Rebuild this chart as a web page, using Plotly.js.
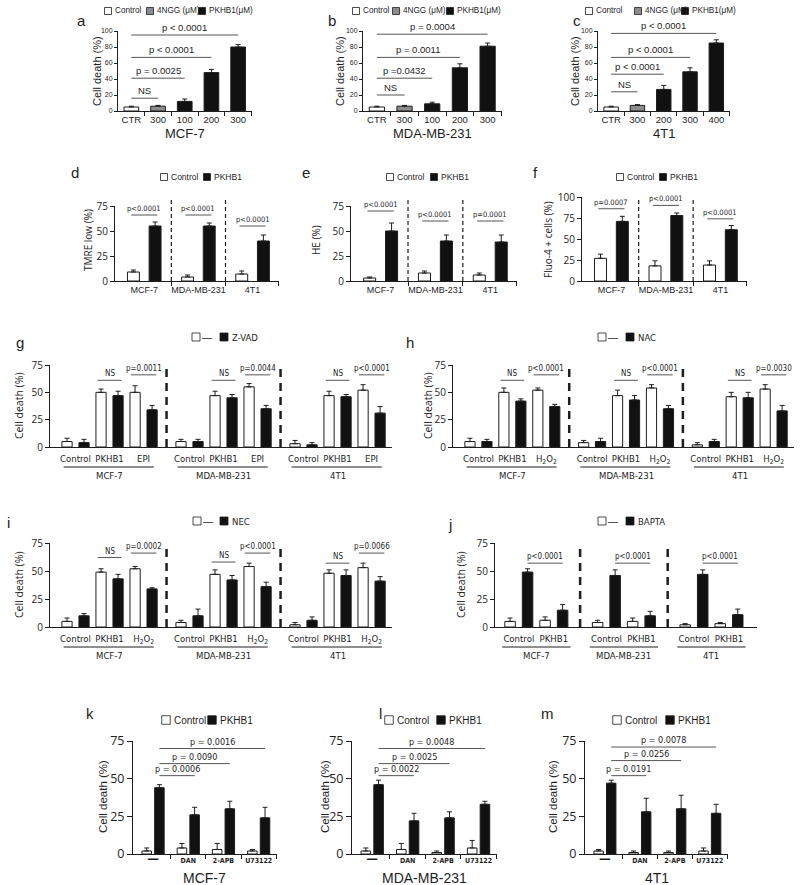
<!DOCTYPE html>
<html>
<head>
<meta charset="utf-8">
<script src="https://cdn.plot.ly/plotly-3.0.1.min.js"></script>
<style>
  body { margin: 0; background: #fff; }
  #fig { width: 800px; height: 885px; }
</style>
</head>
<body>
<div id="fig"></div>
<script>
// PKHB1 cell-death figure, panels a-m, redrawn as one Plotly page.
const W = 800, H = 885;
const INK = '#1e1e1e';
const ARIAL = 'Liberation Sans, Arial, sans-serif';
const NARROW = 'Liberation Sans Narrow, Arial Narrow, DejaVu Sans Condensed, sans-serif';
const SEGOE = 'Open Sans, DejaVu Sans, sans-serif';
const FILL = { Control: '#ffffff', '4NGG': '#8c8c8c', PKHB1: '#111111' };

// --- a-c: dose response ---
const doseKind = ['Control', '4NGG', 'PKHB1', 'PKHB1', 'PKHB1'];
const doseTicksAB = ['CTR', '300', '100', '200', '300'];
const doseTicksC = ['CTR', '300', '200', '300', '400'];
const deathMCF = [5, 6, 12, 48, 80];
const errMCF = [1, 1, 3, 4, 3];
const deathMDA = [5, 6, 9, 54, 81];
const errMDA = [1, 1, 2, 5, 4];
const death4T1 = [5, 7, 27, 49, 85];
const err4T1 = [1, 1, 5, 5, 4];
// [from, to, y, label]
const sigA = [[0, 1, 16, 'NS'], [0, 2, 41, 'p = 0.0025'], [0, 3, 67, 'p < 0.0001'], [0, 4, 95, 'p < 0.0001']];
const sigB = [[0, 1, 20, 'NS'], [0, 2, 41, 'p =0.0432'], [0, 3, 67, 'p = 0.0011'], [0, 4, 96, 'p = 0.0004']];
const sigC = [[0, 1, 24, 'NS'], [0, 2, 46, 'p < 0.0001'], [0, 3, 67, 'p < 0.0001'], [0, 4, 97, 'p < 0.0001']];

// --- d-f: Control vs PKHB1 per cell line ---
const cellLines = ['MCF-7', 'MDA-MB-231', '4T1'];
const tmreCtrl = [9, 4, 7], tmreCtrlErr = [2, 2, 3];
const tmrePkhb = [55, 55, 40], tmrePkhbErr = [4, 3, 6];
const tmreP = ['p<0.0001', 'p<0.0001', 'p<0.0001'], tmrePy = [66, 66, 55];
const heCtrl = [3, 8, 6], heCtrlErr = [1, 2, 2];
const hePkhb = [50, 40, 39], hePkhbErr = [8, 6, 7];
const heP = ['p<0.0001', 'p<0.0001', 'p=0.0001'], hePy = [70, 60, 60];
const fluoCtrl = [27, 18, 19], fluoCtrlErr = [5, 6, 5];
const fluoPkhb = [71, 78, 61], fluoPkhbErr = [6, 3, 5];
const fluoP = ['p=0.0007', 'p<0.0001', 'p<0.0001'], fluoPy = [86, 90, 74];

// --- g-j: inhibitors (values per cell line x treatment) ---
const treatEPI = ['Control', 'PKHB1', 'EPI'];
const treatH2O2 = ['Control', 'PKHB1', 'H<sub>2</sub>O<sub>2</sub>'];
const treatBapta = ['Control', 'PKHB1'];
const zvadNone = [5, 50, 50, 5, 47, 55, 3, 47, 52];
const zvadNoneErr = [3, 3, 6, 2, 4, 3, 3, 4, 5];
const zvadWith = [4, 47, 34, 5, 45, 35, 2, 46, 31];
const zvadWithErr = [3, 4, 4, 2, 3, 3, 2, 2, 6];
const zvadP = ['p=0.0011', 'p=0.0044', 'p<0.0001'];
const nacNone = [5, 50, 52, 4, 47, 54, 2, 46, 53];
const nacNoneErr = [3, 4, 2, 2, 5, 3, 2, 4, 4];
const nacWith = [5, 42, 37, 5, 43, 35, 5, 45, 33];
const nacWithErr = [2, 2, 2, 3, 4, 3, 2, 5, 5];
const nacP = ['p<0.0001', 'p<0.0001', 'p=0.0030'];
const necNone = [5, 49, 52, 4, 47, 54, 2, 48, 53];
const necNoneErr = [3, 3, 2, 2, 4, 3, 2, 3, 4];
const necWith = [10, 43, 34, 10, 42, 36, 6, 46, 41];
const necWithErr = [2, 4, 1, 6, 4, 4, 3, 5, 4];
const necP = ['p=0.0002', 'p<0.0001', 'p=0.0066'];
const baptaNone = [5, 6, 4, 5, 2, 3];
const baptaNoneErr = [3, 3, 2, 3, 1, 1];
const baptaWith = [49, 15, 46, 10, 47, 11];
const baptaWithErr = [3, 5, 5, 4, 4, 5];
const baptaP = ['p<0.0001', 'p<0.0001', 'p<0.0001'];

// --- k-m: Ca2+ channel blockers ---
const blockers = ['—', 'DAN', '2-APB', 'U73122'];
const kCtrl = [2, 4, 3, 2], kCtrlErr = [2, 3, 4, 1];
const kPkhb = [44, 26, 30, 24], kPkhbErr = [2, 5, 5, 7];
const kP = ['p = 0.0006', 'p = 0.0090', 'p = 0.0016'], kPy = [52, 60, 70];
const lCtrl = [2, 3, 1, 4], lCtrlErr = [2, 4, 1, 5];
const lPkhb = [46, 22, 24, 33], lPkhbErr = [3, 5, 4, 2];
const lP = ['p = 0.0022', 'p = 0.0025', 'p = 0.0048'], lPy = [52, 60, 70];
const mCtrl = [2, 1, 1, 2], mCtrlErr = [1, 1, 1, 2];
const mPkhb = [47, 28, 30, 27], mPkhbErr = [2, 9, 9, 6];
const mP = ['p = 0.0191', 'p = 0.0256', 'p = 0.0078'], mPy = [52, 62, 71];

// ================= plumbing =================
const traces = [];
const layout = {
  width: W, height: H, margin: { l: 0, r: 0, t: 0, b: 0 }, showlegend: false,
  barmode: 'overlay', paper_bgcolor: '#fff', plot_bgcolor: '#fff',
  font: { family: ARIAL, color: INK }, shapes: [], annotations: [],
};
const shapes = layout.shapes, notes = layout.annotations;
const yp = y => 1 - y / H;

let axN = 0;
function makePanel(c) {
  axN++;
  const s = axN === 1 ? '' : String(axN);
  const xa = 'x' + s, ya = 'y' + s;
  layout['xaxis' + s] = Object.assign({
    domain: [c.x0 / W, c.x1 / W], anchor: ya, range: c.xr,
    showline: true, linecolor: INK, linewidth: 1, showgrid: false, zeroline: false,
    ticks: '', showticklabels: false, fixedrange: true,
  }, c.xaxis || {});
  layout['yaxis' + s] = Object.assign({
    domain: [1 - c.y1 / H, 1 - c.y0 / H], anchor: xa, range: c.yr,
    showline: true, linecolor: INK, linewidth: 1, showgrid: false, zeroline: false,
    ticks: 'outside', ticklen: 4, tickcolor: INK, tick0: 0, dtick: c.dtick,
    tickfont: c.ytickfont, fixedrange: true,
  }, c.yaxis || {});
  return { xa, ya };
}

function bars(p, xs, ys, errs, fill, width) {
  traces.push({
    type: 'bar', xaxis: p.xa, yaxis: p.ya, x: xs, y: ys, width: width,
    marker: { color: fill, line: { color: INK, width: 1 } },
    error_y: { type: 'data', symmetric: false, array: errs, arrayminus: errs.map(() => 0),
      color: INK, thickness: 1, width: 2.5 },
    hoverinfo: 'skip',
  });
}

function bracket(p, x0, x1, y, text, font) {
  shapes.push({ type: 'line', xref: p.xa, yref: p.ya, x0, x1, y0: y, y1: y, line: { color: '#555', width: 1 } });
  notes.push({ xref: p.xa, yref: p.ya, x: (x0 + x1) / 2, y, text, showarrow: false,
    yanchor: 'bottom', font: Object.assign({ color: INK }, font) });
}

function text(t, x, y, font, extra) {
  notes.push(Object.assign({ xref: 'paper', yref: 'paper', x: x / W, y: yp(y), text: t, showarrow: false,
    xanchor: 'center', yanchor: 'middle', font: Object.assign({ color: INK }, font) }, extra || {}));
}
const letter = (t, x, y) => text(t, x, y, { family: ARIAL, size: 15 });
const ytitle = (t, x, y, font) => text(t, x, y, font, { textangle: -90 });

function box(xc, yc, s, fill) {
  shapes.push({ type: 'rect', xref: 'paper', yref: 'paper',
    x0: (xc - s / 2) / W, x1: (xc + s / 2) / W, y0: yp(yc + s / 2), y1: yp(yc - s / 2),
    fillcolor: fill, line: { color: INK, width: 0.8 } });
}
function legendItems(items, yc, s, font) {
  items.forEach(([xc, fill, label]) => {
    box(xc, yc, s, fill);
    text(label, xc + s / 2 + 1.5, yc, font, { xanchor: 'left' });
  });
}

function vdash(p, x, ytop, ybot, width, dash) {
  shapes.push({ type: 'line', xref: p.xa, yref: 'paper', x0: x, x1: x, y0: yp(ybot), y1: yp(ytop),
    line: { color: INK, width, dash } });
}

// ================= a-c =================
[
  { x0: 118, x1: 252, ticks: doseTicksAB, vals: deathMCF, errs: errMCF, sig: sigA, name: 'MCF-7', L: 'a', lx: 81, tx: 97, leg: [108, 150, 202] },
  { x0: 363, x1: 502, ticks: doseTicksAB, vals: deathMDA, errs: errMDA, sig: sigB, name: 'MDA-MB-231', L: 'b', lx: 332, tx: 340, leg: [356, 396, 450] },
  { x0: 598, x1: 730, ticks: doseTicksC, vals: death4T1, errs: err4T1, sig: sigC, name: '4T1', L: 'c', lx: 577, tx: 575, leg: [589, 638, 685] },
].forEach(d => {
  const idx = d.ticks.map((_, i) => i);
  const p = makePanel({
    x0: d.x0, x1: d.x1, y0: 31, y1: 111, xr: [-0.5, 4.52], yr: [0, 100], dtick: 20,
    ytickfont: { family: ARIAL, size: 7 },
    xaxis: { showticklabels: true, tickmode: 'array', tickvals: idx, ticktext: d.ticks,
      tickfont: { family: ARIAL, size: 9.5 },
      minor: { ticks: 'outside', tickvals: idx.map(i => i + 0.5), ticklen: 4, tickcolor: INK } },
    yaxis: { ticklen: 3 },
  });
  bars(p, idx, d.vals, d.errs, doseKind.map(k => FILL[k]), 0.55);
  d.sig.forEach(([a, b, y, t]) => bracket(p, a, b, y, t, { family: ARIAL, size: 9.5 }));
  letter(d.L, d.lx, 20);
  ytitle('Cell death (%)', d.tx, 71, { family: ARIAL, size: 11 });
  text(d.name, (d.x0 + d.x1) / 2, 134, { family: ARIAL, size: 13 });
  legendItems([[d.leg[0], FILL.Control, 'Control'], [d.leg[1], FILL['4NGG'], '4NGG (μM)'], [d.leg[2], FILL.PKHB1, 'PKHB1(μM)']],
    11, 7, { family: ARIAL, size: 8.2 });
});

// ================= d-f =================
[
  { x0: 115, x1: 279, y0: 206, yr: [0, 75], ctrl: tmreCtrl, ctrlE: tmreCtrlErr, pk: tmrePkhb, pkE: tmrePkhbErr, p: tmreP, py: tmrePy, title: 'TMRE low (%)', tx: 88, L: 'd', lx: 75, leg: [164, 207] },
  { x0: 351, x1: 517, y0: 206, yr: [0, 75], ctrl: heCtrl, ctrlE: heCtrlErr, pk: hePkhb, pkE: hePkhbErr, p: heP, py: hePy, title: 'HE (%)', tx: 316, L: 'e', lx: 306, leg: [390, 434] },
  { x0: 582, x1: 747, y0: 197, yr: [0, 100], ctrl: fluoCtrl, ctrlE: fluoCtrlErr, pk: fluoPkhb, pkE: fluoPkhbErr, p: fluoP, py: fluoPy, title: 'Fluo-4 + cells (%)', tx: 548, L: 'f', lx: 535, leg: [620, 663] },
].forEach(d => {
  const p = makePanel({
    x0: d.x0, x1: d.x1, y0: d.y0, y1: 281, xr: [0.15, 7.72], yr: d.yr, dtick: 25,
    ytickfont: { family: SEGOE, size: 10 },
    xaxis: { showticklabels: true, tickmode: 'array', tickvals: [1.5, 4, 6.5], ticktext: cellLines,
      tickfont: { family: ARIAL, size: 9 },
      minor: { ticks: 'outside', tickvals: [2.75, 5.25, 7.7], ticklen: 4, tickcolor: INK } },
  });
  const gx = cellLines.map((_, g) => 1 + 2.5 * g);
  bars(p, gx, d.ctrl, d.ctrlE, FILL.Control, 0.55);
  bars(p, gx.map(x => x + 1), d.pk, d.pkE, FILL.PKHB1, 0.55);
  gx.forEach((x, g) => bracket(p, x - 0.1, x + 1.1, d.py[g], d.p[g], { family: NARROW, size: 7.5 }));
  vdash(p, 2.75, 198, 281, 1.2, '4px,3px');
  vdash(p, 5.25, 198, 281, 1.2, '4px,3px');
  letter(d.L, d.lx, 173);
  ytitle(d.title, d.tx, 240, { family: SEGOE, size: 10 });
  legendItems([[d.leg[0], FILL.Control, 'Control'], [d.leg[1], FILL.PKHB1, 'PKHB1']], 177, 7, { family: ARIAL, size: 8.5 });
});

// ================= g-j =================
function inhibitorPanel(d) {
  const nT = d.treat.length;
  const p = makePanel({
    x0: d.x0, x1: d.x1, y0: d.y0, y1: d.y1, xr: d.xr, yr: [0, 75], dtick: 25,
    ytickfont: { family: SEGOE, size: 10 },
    xaxis: { showticklabels: true, tickmode: 'array', ticklabelstandoff: 3,
      tickvals: cellLines.flatMap((_, g) => d.treat.map((_, t) => g * d.gap + 2 * t + 0.5)),
      ticktext: cellLines.flatMap(() => d.treat), tickfont: { family: NARROW, size: 9.5 } },
  });
  const xw = cellLines.flatMap((_, g) => d.treat.map((_, t) => g * d.gap + 2 * t));
  bars(p, xw, d.none, d.noneE, FILL.Control, 0.6);
  bars(p, xw.map(x => x + 1), d.inh, d.inhE, FILL.PKHB1, 0.6);
  const small = { family: NARROW, size: 8 };
  cellLines.forEach((name, g) => {
    const o = g * d.gap;
    if (nT === 3) {
      bracket(p, o + 1.8, o + 3.2, d.nsY[g], 'NS', small);
      bracket(p, o + 3.75, o + 5.25, d.pY[g], d.p[g], small);
    } else {
      bracket(p, o + 1, o + 3, d.pY[g], d.p[g], small);
    }
    shapes.push({ type: 'line', xref: p.xa, yref: 'paper', x0: o + d.under[0], x1: o + d.under[1],
      y0: yp(d.y1 + 20), y1: yp(d.y1 + 20), line: { color: INK, width: 1 } });
    notes.push({ xref: p.xa, yref: 'paper', x: o + (nT * 2 - 1) / 2, y: yp(d.y1 + 28), text: name,
      showarrow: false, yanchor: 'middle', font: { family: NARROW, size: 9.5, color: INK } });
  });
  d.dashes.forEach(x => vdash(p, x, d.y0, d.y1, 2.5, '8px,6px'));
  letter(d.L, d.lx, d.ly);
  ytitle('Cell death (%)', d.tx, (d.y0 + d.y1) / 2, { family: SEGOE, size: 10.5 });
  box(d.leg[0], d.legY, 8, FILL.Control);
  text('—', d.leg[0] + 11, d.legY, { family: ARIAL, size: 10 });
  box(d.leg[1], d.legY, 8, FILL.PKHB1);
  text(d.label, d.leg[1] + 5.5, d.legY, { family: NARROW, size: 9.5 }, { xanchor: 'left' });
}

inhibitorPanel({ x0: 50, x1: 392, y0: 365, y1: 447, xr: [-1, 19.1], gap: 6.7, treat: treatEPI,
  none: zvadNone, noneE: zvadNoneErr, inh: zvadWith, inhE: zvadWithErr, p: zvadP, nsY: [61, 61, 61], pY: [66, 66, 66],
  under: [-0.2, 5.1], dashes: [5.85, 12.55], L: 'g', lx: 20, ly: 343, tx: 19, leg: [196, 224], legY: 337, label: 'Z-VAD' });
inhibitorPanel({ x0: 453, x1: 794, y0: 365, y1: 447, xr: [-1, 19.1], gap: 6.7, treat: treatH2O2,
  none: nacNone, noneE: nacNoneErr, inh: nacWith, inhE: nacWithErr, p: nacP, nsY: [61, 61, 61], pY: [66, 66, 66],
  under: [-0.2, 5.1], dashes: [5.85, 12.55], L: 'h', lx: 410, ly: 343, tx: 428, leg: [602, 630], legY: 337, label: 'NAC' });
inhibitorPanel({ x0: 50, x1: 392, y0: 543, y1: 627, xr: [-1, 19.1], gap: 6.7, treat: treatH2O2,
  none: necNone, noneE: necNoneErr, inh: necWith, inhE: necWithErr, p: necP, nsY: [62, 58, 57], pY: [66, 66, 66],
  under: [-0.2, 5.1], dashes: [5.85, 12.55], L: 'i', lx: 8, ly: 522, tx: 19, leg: [197, 224], legY: 521, label: 'NEC' });
inhibitorPanel({ x0: 495, x1: 757, y0: 543, y1: 627, xr: [-0.86, 14.1], gap: 5, treat: treatBapta,
  none: baptaNone, noneE: baptaNoneErr, inh: baptaWith, inhE: baptaWithErr, p: baptaP, pY: [57, 57, 57],
  under: [-0.45, 3.45], dashes: [4, 9], L: 'j', lx: 450, ly: 524, tx: 461, leg: [602, 630], legY: 521, label: 'BAPTA' });

// ================= k-m =================
[
  { x0: 133, x1: 277, ctrl: kCtrl, ctrlE: kCtrlErr, pk: kPkhb, pkE: kPkhbErr, p: kP, py: kPy, name: 'MCF-7', L: 'k', lx: 90, tx: 103, leg: [166, 212] },
  { x0: 352, x1: 497, ctrl: lCtrl, ctrlE: lCtrlErr, pk: lPkhb, pkE: lPkhbErr, p: lP, py: lPy, name: 'MDA-MB-231', L: 'l', lx: 380, tx: 325, leg: [389, 441] },
  { x0: 585, x1: 728, ctrl: mCtrl, ctrlE: mCtrlErr, pk: mPkhb, pkE: mPkhbErr, p: mP, py: mPy, name: '4T1', L: 'm', lx: 547, tx: 553, leg: [617, 670] },
].forEach(d => {
  const idx = blockers.map((_, i) => i);
  const p = makePanel({
    x0: d.x0, x1: d.x1, y0: 741, y1: 854, xr: [-0.57, 3.52], yr: [0, 75], dtick: 25,
    ytickfont: { family: SEGOE, size: 12.5 },
    xaxis: { showticklabels: true, tickmode: 'array', tickvals: idx,
      ticktext: blockers.map((b, i) => i === 0 ? '<b><span style="font-size:13px">' + b + '</span></b>' : '<b>' + b + '</b>'),
      tickfont: { family: NARROW, size: 7 },
      minor: { ticks: 'outside', tickvals: idx.map(i => i + 0.5), ticklen: 4, tickcolor: INK } },
    yaxis: { ticklen: 5 },
  });
  bars(p, idx.map(i => i - 0.18), d.ctrl, d.ctrlE, FILL.Control, 0.27);
  bars(p, idx.map(i => i + 0.18), d.pk, d.pkE, FILL.PKHB1, 0.27);
  d.p.forEach((t, j) => bracket(p, 0.18, j + 1.18, d.py[j], t, { family: NARROW, size: 9 }));
  letter(d.L, d.lx, 713);
  ytitle('Cell death (%)', d.tx, 797, { family: ARIAL, size: 11.5 });
  text(d.name, (d.x0 + d.x1) / 2, 878, { family: ARIAL, size: 14 });
  legendItems([[d.leg[0], FILL.Control, 'Control'], [d.leg[1], FILL.PKHB1, 'PKHB1']], 720, 8.5, { family: ARIAL, size: 10 });
});

Plotly.newPlot('fig', traces, layout, { staticPlot: true, displayModeBar: false });
</script>
</body>
</html>
